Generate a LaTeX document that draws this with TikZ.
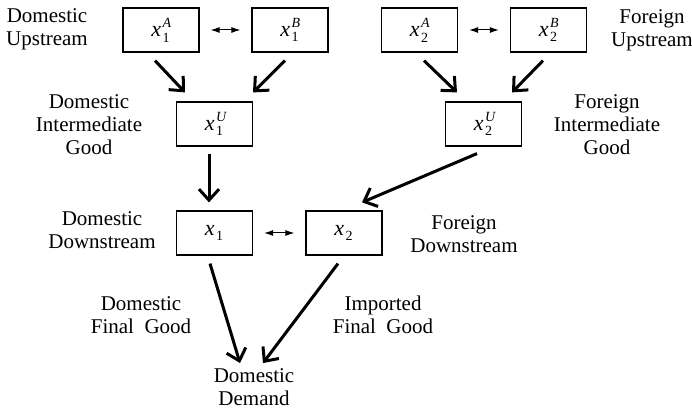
\documentclass[tikz,border=0pt]{standalone}
\usepackage{fontspec}
\setmainfont{Liberation Serif}
\usetikzlibrary{arrows.meta}
\tikzset{
  box/.style={draw, line width=0.6pt, minimum width=38pt, minimum height=22pt, inner sep=0pt, font=\fontsize{11}{12}\selectfont},
  lbl/.style={align=center, inner sep=0pt, font=\fontsize{10.5}{11.5}\selectfont},
  flow/.style={line width=1.5pt, -{Straight Barb[length=5.5pt,width=10pt]}},
  tie/.style={line width=0.5pt, {Latex[length=4.5pt,width=3pt]}-{Latex[length=4.5pt,width=3pt]}, shorten >=5.5pt, shorten <=5.5pt}
}
\newcommand{\scr}{\fontsize{7}{7}\selectfont}
\newcommand{\xv}[2]{\textit{x}\hspace{0.8pt}\makebox[4pt][l]{\rlap{\raisebox{-2.6pt}{\scr #1}}\raisebox{4.8pt}{\scr\itshape #2}}}

\begin{document}
\begin{tikzpicture}[x=0.5pt, y=-0.5pt]
\useasboundingbox (0,0) rectangle (692,410);

%boxes
	\node[box] (x1A) at (161,30) {\xv{1}{A}};
	\node[box] (x1B) at (290,30) {\xv{1}{B}};
	\node[box] (x2A) at (419.5,30) {\xv{2}{A}};
	\node[box] (x2B) at (548.5,30) {\xv{2}{B}};
	\node[box] (x1U) at (214.5,124) {\xv{1}{U}};
	\node[box] (x2U) at (483.5,124) {\xv{2}{U}};
	\node[box] (x1) at (214.5,233) {\xv{1}{}};
	\node[box] (x2) at (344,233) {\xv{2}{}};

	%labels
	\node[lbl] (domup) at (47,29) {Domestic\\Upstream};
	\node[lbl] (forup) at (652,30) {Foreign\\Upstream};
	\node[lbl] (dommid) at (89,125) {Domestic\\Intermediate\\Good};
	\node[lbl] (formid) at (607,125) {Foreign\\Intermediate\\Good};
	\node[lbl] (domdown) at (102,230) {Domestic\\Downstream};
	\node[lbl] (fordown) at (464,234) {Foreign\\Downstream};
	\node[lbl] (domfin) at (141,315) {Domestic\\Final\ \ Good};
	\node[lbl] (impfin) at (383,315) {Imported\\Final\ \ Good};
	\node[lbl] (dem) at (254,387) {Domestic\\Demand};

	%trade between firms
	\draw[tie] (x1A.east)--(x1B.west);
	\draw[tie] (x2A.east)--(x2B.west);
	\draw[tie] (x1.east)--(x2.west);

	%flows
	\draw[flow] ([shift={(-6,8)}]x1A.south)--([shift={(-29.5,-9)}]x1U.north);
	\draw[flow] ([shift={(-5,8)}]x1B.south)--([shift={(38.5,-9)}]x1U.north);
	\draw[flow] ([shift={(4.5,8)}]x2A.south)--([shift={(-26.5,-9)}]x2U.north);
	\draw[flow] ([shift={(-5.5,8)}]x2B.south)--([shift={(28.5,-9)}]x2U.north);
	\draw[flow] ([shift={(-5.5,7)}]x1U.south)--([shift={(-5.5,-8)}]x1.north);
	\draw[flow] ([shift={(-6.5,7)}]x2U.south)--([shift={(18,-8)}]x2.north);
	\draw[flow] ([shift={(-4.5,8)}]x1.south)--([shift={(-14,-5)}]dem.north);
	\draw[flow] ([shift={(-6,8)}]x2.south)--([shift={(9,-5)}]dem.north);
\end{tikzpicture}
\end{document}
